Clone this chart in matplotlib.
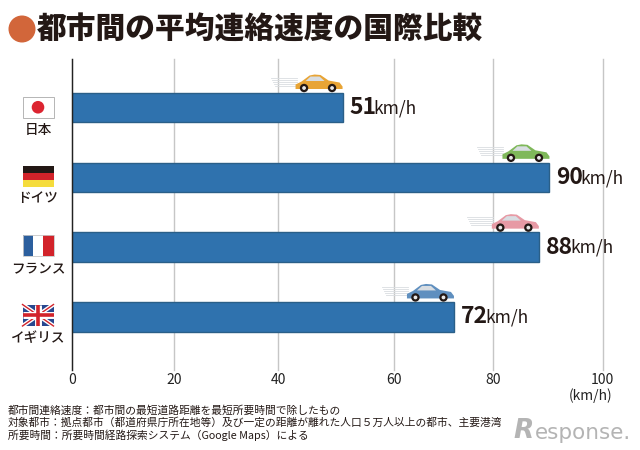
import matplotlib
matplotlib.use('Agg')
import matplotlib.pyplot as plt
from matplotlib.patches import Rectangle, Circle, Polygon

plt.rcParams['font.family'] = ['Noto Sans CJK JP', 'DejaVu Sans']

countries = ['日本', 'ドイツ', 'フランス', 'イギリス']
speeds = [51, 90, 88, 72]
car_colors = ['#e8a435', '#7fb85a', '#e79aa5', '#5f8fbf']
# grid lines in the original are not evenly spaced, so positions are as read off the picture
tick_pos = [0, 19.3, 38.9, 60.7, 79.4, 100]
tick_labels = ['0', '20', '40', '60', '80', '100']
title = '都市間の平均連絡速度の国際比較'
notes = ['都市間連絡速度：都市間の最短道路距離を最短所要時間で除したもの',
         '対象都市：拠点都市（都道府県庁所在地等）及び一定の距離が離れた人口５万人以上の都市、主要港湾',
         '所要時間：所要時間経路探索システム（Google Maps）による']

W, H = 640, 450
fig = plt.figure(figsize=(W / 100, H / 100), dpi=100)
ax = fig.add_axes([72 / W, 1 - 370 / H, 530.5 / W, 311 / H])

ax.barh(range(4), speeds, height=0.42, color='#2f72ae', edgecolor='#2a5f88', linewidth=1, zorder=3)
ax.set_xlim(0, 100)
ax.set_ylim(3.76, -0.695)
ax.set_xticks(tick_pos)
ax.set_xticklabels(tick_labels, fontsize=10, color='#222222')
ax.tick_params(axis='x', length=0, pad=2)
ax.set_yticks([])
ax.grid(axis='x', color='#c6c6c6', lw=1, zorder=0)
ax.set_axisbelow(True)
for line in ax.get_xgridlines():
    line.set_clip_on(False)
for s in ['top', 'right', 'bottom']:
    ax.spines[s].set_visible(False)
ax.spines['left'].set_color('#222222')
ax.spines['left'].set_linewidth(1)
ax.spines['left'].set_zorder(5)

# 数値ラベル
for i, v in enumerate(speeds):
    ax.annotate(str(v), (v, i), xytext=(5, 0), textcoords='offset points', va='center', ha='left',
                fontsize=16.5, fontweight='bold', color='#231815', zorder=6)
    ax.annotate('km/h', (v, i), xytext=(22.5, -0.5), textcoords='offset points', va='center', ha='left',
                fontsize=12.5, color='#231815', zorder=6)

# 以下はピクセル座標で描く
ov = fig.add_axes([0, 0, 1, 1], facecolor='none')
ov.set_xlim(0, W)
ov.set_ylim(H, 0)
ov.axis('off')

ov.add_patch(Circle((22, 29), 13.5, color='#d2663a', lw=0))
ov.text(37, 29, title, fontsize=21.4, fontweight='black', va='center', ha='left', color='#231815')

for y, s in zip([410, 422.5, 435], notes):
    ov.text(8, y, s, fontsize=7.72, va='center', ha='left', color='#231815')

ov.text(591, 396, '(km/h)', fontsize=10, ha='center', va='center', color='#222222')
ov.text(513, 431, 'R', fontsize=19, family=['DejaVu Sans'], fontweight='bold', style='italic',
        ha='left', va='center', color='#b4b4b4')
ov.text(535, 433, 'esponse.', fontsize=15.5, family=['DejaVu Sans'],
        ha='left', va='center', color='#b4b4b4')


def draw_car(right, bottom, color):
    for k, dy in enumerate([-15, -13, -11, -9, -7]):
        ov.plot([right - 72 + k, right - 46], [bottom + dy, bottom + dy], color='#d9dde0', lw=0.6, zorder=4)
    body = [(-47, -8), (-41, -11), (-33, -17), (-28, -18), (-22, -17.5), (-14, -12),
            (-3, -10), (0, -6), (0, -3.5), (-47, -3.5)]
    ov.add_patch(Polygon([(right + a, bottom + b) for a, b in body], color=color, lw=0, zorder=5))
    glass = [(-37, -11.5), (-32, -16), (-23, -16), (-18, -11.5)]
    ov.add_patch(Polygon([(right + a, bottom + b) for a, b in glass], color='#d8dde2', lw=0, zorder=6))
    for wx in [-38.5, -10.5]:
        ov.add_patch(Circle((right + wx, bottom - 4.5), 4.2, color='#231815', lw=0, zorder=7))
        ov.add_patch(Circle((right + wx, bottom - 4.5), 1.9, color='#e8e8e8', lw=0, zorder=8))


for i, v in enumerate(speeds):
    px, py = ax.transData.transform((v, i))
    draw_car(px, H - py - 15, car_colors[i])

# 国旗
fx, fw, fh = 22.5, 31, 21.5
flag_tops = [96.5, 165.5, 234.5, 304.5]
ov.add_patch(Rectangle((fx, flag_tops[0]), fw, fh, fc='white', ec='#b5b5b5', lw=0.7))
ov.add_patch(Circle((fx + fw / 2, flag_tops[0] + fh / 2), 6.3, color='#dc2430', lw=0))

for k, c in enumerate(['#231815', '#d2232a', '#f5dc3c']):
    ov.add_patch(Rectangle((fx, flag_tops[1] + k * fh / 3), fw, fh / 3, color=c, lw=0))

for k, c in enumerate(['#2c5f9e', 'white', '#d2232a']):
    ov.add_patch(Rectangle((fx + k * fw / 3, flag_tops[2]), fw / 3, fh, color=c, lw=0))
ov.add_patch(Rectangle((fx, flag_tops[2]), fw, fh, fc='none', ec='#c8c8c8', lw=0.6))

t = flag_tops[3]
clip = Rectangle((fx, t), fw, fh, fc='#27478f', lw=0)
ov.add_patch(clip)
for x0, x1 in [(fx, fx + fw), (fx + fw, fx)]:
    ov.plot([x0, x1], [t, t + fh], color='white', lw=3, clip_path=clip)
    ov.plot([x0, x1], [t, t + fh], color='#d2232a', lw=1, clip_path=clip)
ov.plot([fx + fw / 2] * 2, [t, t + fh], color='white', lw=5, clip_path=clip, solid_capstyle='butt')
ov.plot([fx, fx + fw], [t + fh / 2] * 2, color='white', lw=5, clip_path=clip, solid_capstyle='butt')
ov.plot([fx + fw / 2] * 2, [t, t + fh], color='#d2232a', lw=2.6, clip_path=clip, solid_capstyle='butt')
ov.plot([fx, fx + fw], [t + fh / 2] * 2, color='#d2232a', lw=2.6, clip_path=clip, solid_capstyle='butt')

for i, name in enumerate(countries):
    ov.text(38, [130, 198, 268, 338][i], name, fontsize=9.8, fontweight='medium', ha='center', va='center', color='#231815')

fig.savefig('out.png', dpi=100)
